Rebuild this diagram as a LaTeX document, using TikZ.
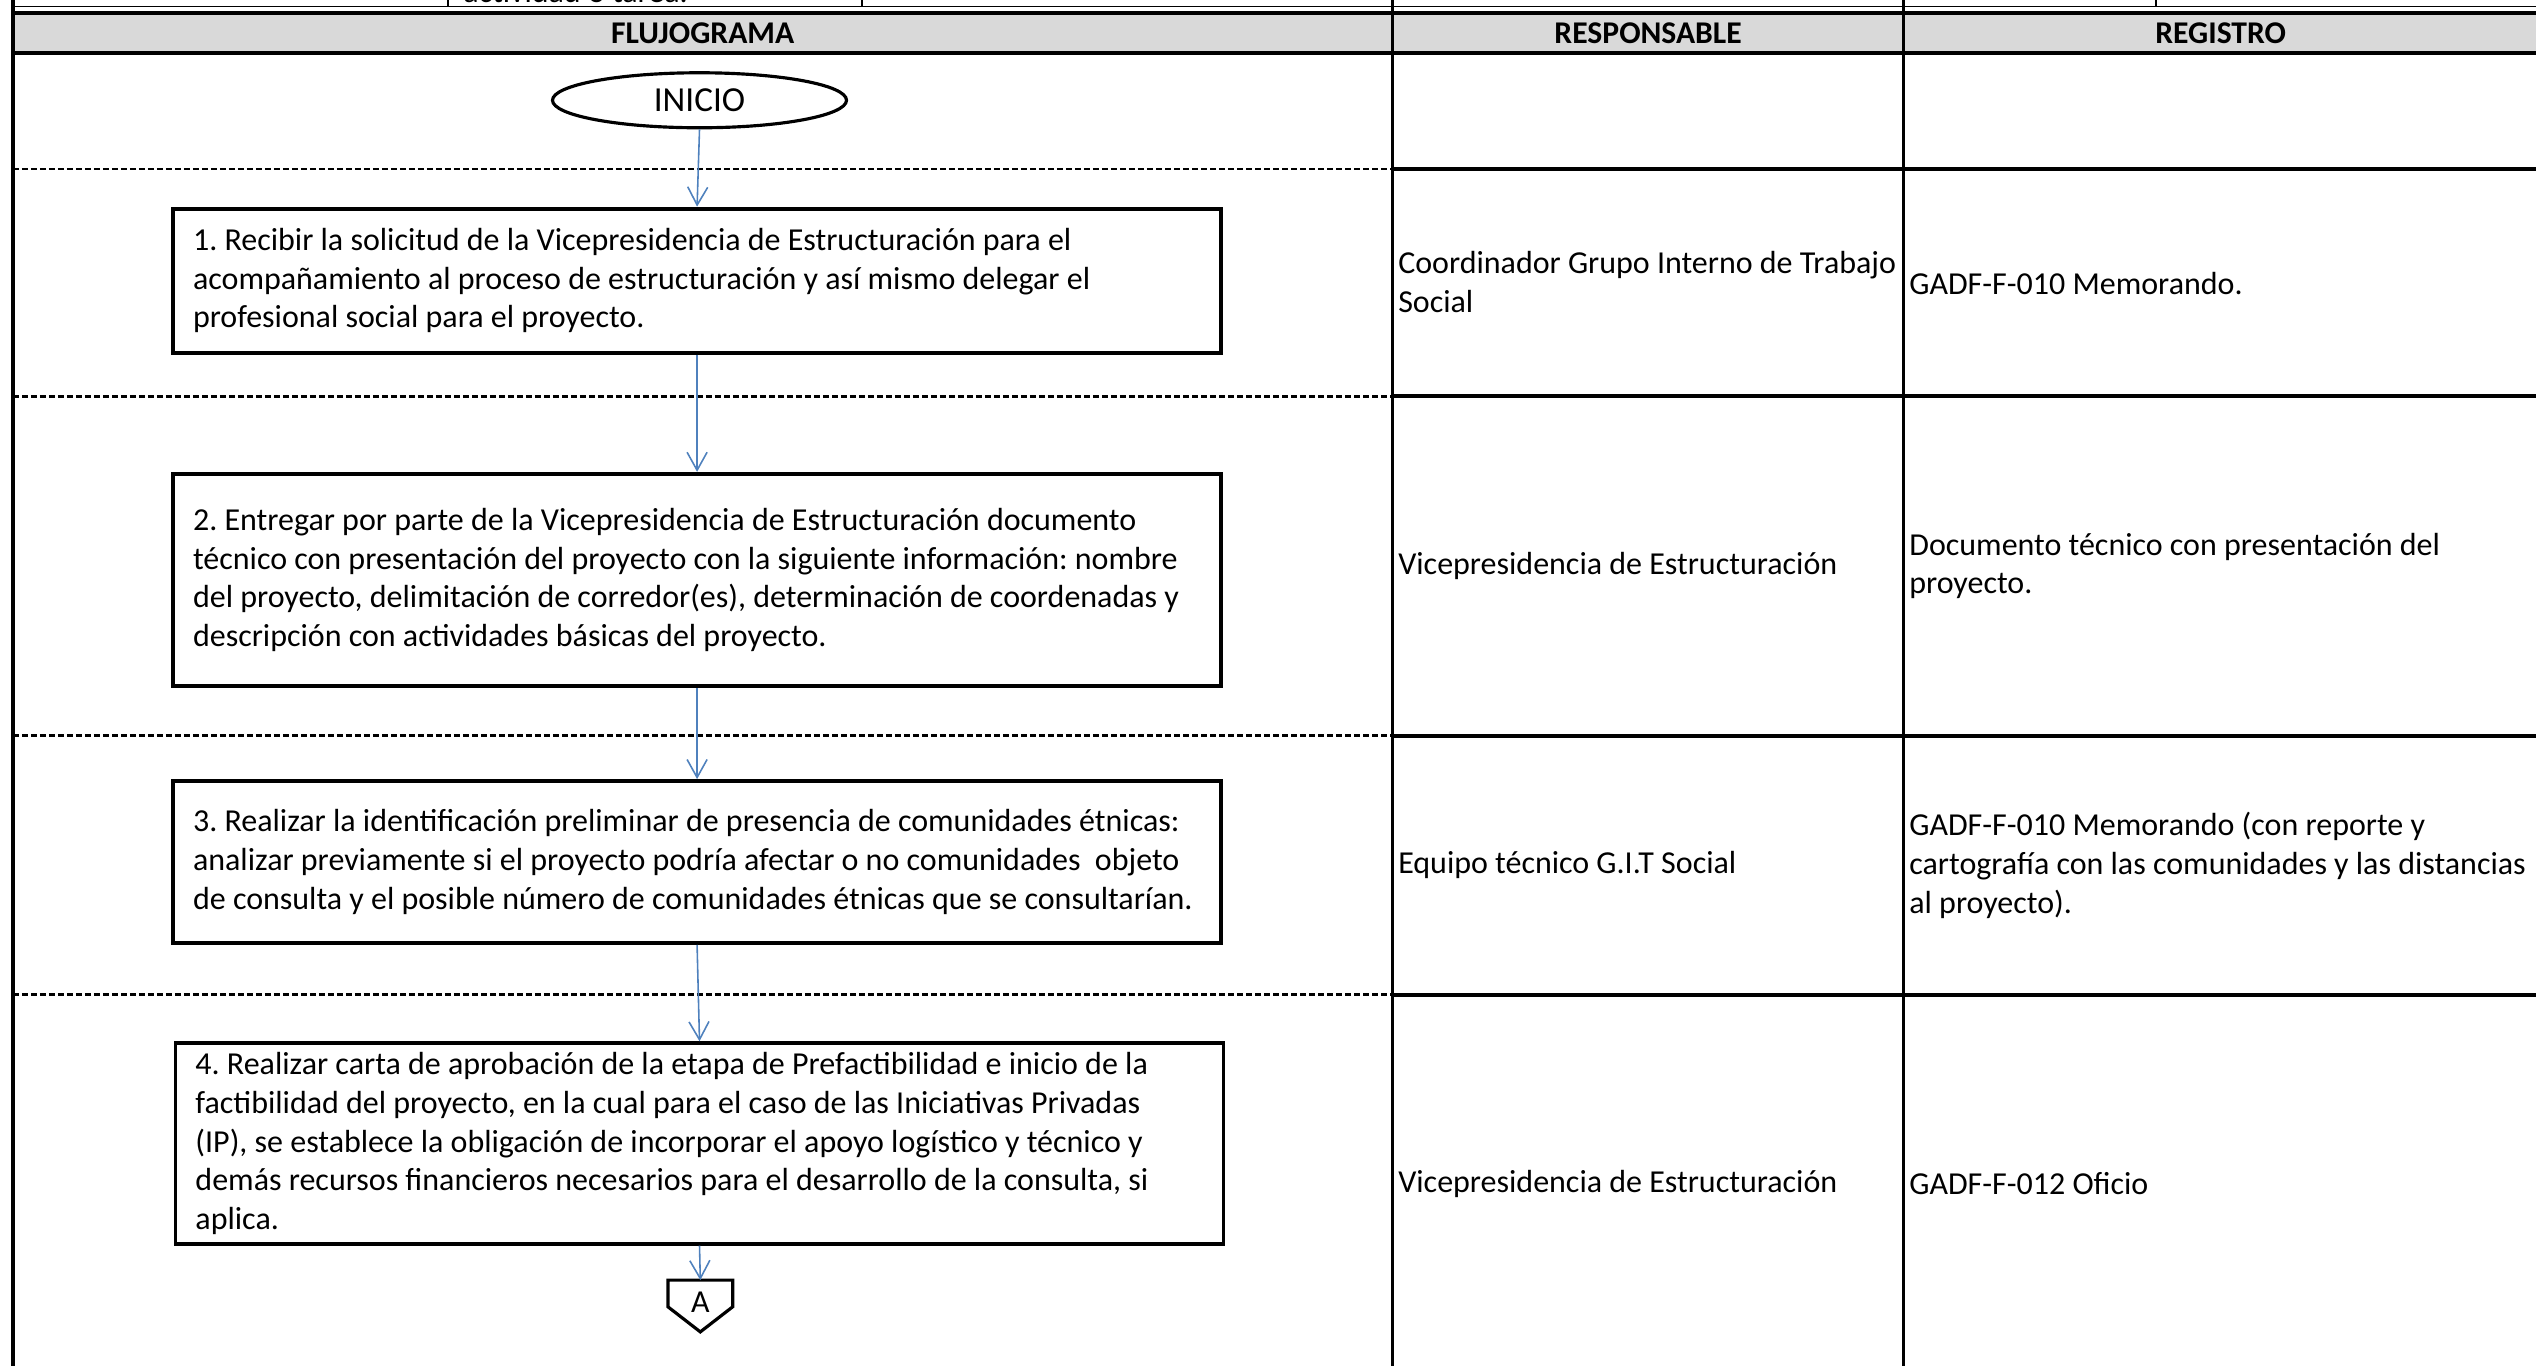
\documentclass[tikz,border=0pt]{standalone}
\usepackage{fontspec}
\setmainfont{Carlito}
\usepackage{tikz}
\usetikzlibrary{positioning,shapes.geometric,arrows.meta,calc}
\definecolor{myblue}{RGB}{79,129,189}
\definecolor{mygray}{RGB}{217,217,217}

\begin{document}
\begin{tikzpicture}[x=0.16173mm,y=-0.16173mm,
  every node/.style={font=\fontsize{9.1}{11}\selectfont\frenchspacing,inner sep=0.5mm},
  stepbox/.style={draw,line width=1.1pt,align=flush left,text width=100.8mm,inner xsep=2mm},
  cell/.style={anchor=west,align=flush left},
  head/.style={font=\fontsize{9}{11}\selectfont\bfseries},
  flow/.style={myblue,line width=0.45pt,-{Straight Barb[length=1.8mm,width=2mm]}},
  lane/.style={line width=0.8pt,dash pattern=on 0.6mm off 0.3mm},
  rowline/.style={line width=1.1pt}
]
\useasboundingbox (0,0) rectangle (1568,844);
\clip (0,0) rectangle (1568,844);

% the header band
\fill[mygray] (8,8) rectangle (1568,33);
\node[anchor=base west] (tarea) at (283,1.5) {actividad o tarea.};
\draw[line width=0.4pt] (8,4.2) -- (1568,4.2);
\draw[line width=1.1pt] (8,8) -- (1568,8);
\draw[line width=1.1pt] (8,33) -- (1568,33);
\foreach \x in {277,533,1333}
  \draw[line width=0.7pt] (\x,-2) -- (\x,4.2);
\node[head] (flujo) at (434.5,20.5) {FLUJOGRAMA};
\node[head] (resp) at (1019,20.5) {RESPONSABLE};
\node[head] (reg) at (1373,20.5) {REGISTRO};

% the columns
\draw[line width=1.2pt] (8,-2) -- (8,850);
\foreach \x in {861,1177}
  \draw[line width=0.7pt] (\x,-2) -- (\x,850);

% the rows
\foreach \y in {104.5,245,455,615} {
  \draw[lane] (8,\y) -- (861,\y);
  \draw[rowline] (861,\y) -- (1568,\y);
}

% the steps
\node[ellipse,draw,line width=0.9pt,minimum width=29.4mm,minimum height=5.5mm,inner sep=0pt,
  font=\fontsize{10}{12}\selectfont] (inicio) at (432.5,62) {INICIO};
\node[stepbox,minimum height=14.4mm] (s1) at (431,173.5) {1. Recibir la solicitud de la Vicepresidencia de Estructuración para el\\acompañamiento al proceso de estructuración y así mismo delegar el\\profesional social para el proyecto.};
\node[stepbox,minimum height=21.2mm] (s2) at (431,358.5) {2. Entregar por parte de la Vicepresidencia de Estructuración documento\\técnico con presentación del proyecto con la siguiente información: nombre\\del proyecto, delimitación de corredor(es), determinación de coordenadas y\\descripción con actividades básicas del proyecto.};
\node[stepbox,minimum height=16.2mm] (s3) at (431,533) {3. Realizar la identificación preliminar de presencia de comunidades étnicas:\\analizar previamente si el proyecto podría afectar o no comunidades\ \ objeto\\de consulta y el posible número de comunidades étnicas que se consultarían.};
\node[stepbox,minimum height=20.05mm] (s4) at (432.5,707) {4. Realizar carta de aprobación de la etapa de Prefactibilidad e inicio de la\\factibilidad del proyecto, en la cual para el caso de las Iniciativas Privadas\\(IP), se establece la obligación de incorporar el apoyo logístico y técnico y\\demás recursos financieros necesarios para el desarrollo de la consulta, si\\aplica.};

% the connector A
\node[inner sep=0pt] (conA) at (433,805) {A};
\coordinate (conAtop) at ($(conA)+(0,-13.5)$);
\draw[line width=0.9pt] ($(conA)+(-20,-13.5)$) -- ($(conA)+(20,-13.5)$) -- ($(conA)+(20,3)$)
  -- ($(conA)+(0,18.5)$) -- ($(conA)+(-20,3)$) -- cycle;

% the arrows
\draw[flow] (inicio.south) -- (s1.north);
\draw[flow] (s1.south) -- (s2.north);
\draw[flow] (s2.south) -- (s3.north);
\draw[flow] (s3.south) -- (s4.north);
\draw[flow] (s4.south) -- (conAtop);

% responsable
\node[cell] (r1) at (861,174.5) {Coordinador Grupo Interno de Trabajo\\Social};
\node[cell] (r2) at (861,350) {Vicepresidencia de Estructuración};
\node[cell] (r3) at (861,535) {Equipo técnico G.I.T Social};
\node[cell] (r4) at (861,732) {Vicepresidencia de Estructuración};

% registro
\node[cell] (g1) at (1177,175) {GADF-F-010 Memorando.};
\node[cell] (g2) at (1177,350) {Documento técnico con presentación del\\proyecto.};
\node[cell] (g3) at (1177,535) {GADF-F-010 Memorando (con reporte y\\cartografía con las comunidades y las distancias\\al proyecto).};
\node[cell] (g4) at (1177,732) {GADF-F-012 Oficio};
\end{tikzpicture}
\end{document}
